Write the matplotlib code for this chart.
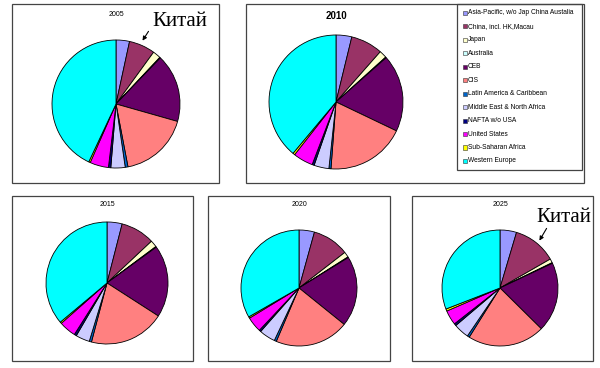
import matplotlib
matplotlib.use("Agg")
import matplotlib.pyplot as plt
from matplotlib.patches import Rectangle

W, H = 600, 368

regions = ["Asia-Pacific, w/o Jap China Austalia", "China, incl. HK,Macau", "Japan",
           "Australia", "CEB", "CIS", "Latin America & Caribbean",
           "Middle East & North Africa", "NAFTA w/o USA", "United States",
           "Sub-Saharan Africa", "Western Europe"]
colors = ["#9999FF", "#993366", "#FFFFCC", "#CCFFFF", "#660066", "#FF8080",
          "#0066CC", "#CCCCFF", "#000080", "#FF00FF", "#FFFF00", "#00FFFF"]

years = ["2005", "2010", "2015", "2020", "2025"]
share_2005 = [3.4, 6.6, 2.0, 0.2, 17.2, 17.6, 0.7, 3.6, 0.6, 4.7, 0.4, 43.0]
share_2010 = [3.8, 7.7, 1.8, 0.2, 18.6, 19.1, 0.5, 3.6, 0.5, 4.8, 0.5, 38.9]
share_2015 = [4.0, 9.0, 1.8, 0.2, 19.1, 20.0, 0.6, 3.7, 0.6, 4.5, 0.4, 36.1]
share_2020 = [4.3, 10.2, 1.5, 0.2, 19.6, 20.6, 0.6, 4.5, 0.5, 4.3, 0.4, 33.3]
share_2025 = [4.6, 12.1, 1.1, 0.2, 19.4, 21.5, 0.6, 4.3, 0.6, 4.1, 0.6, 30.9]
shares = [share_2005, share_2010, share_2015, share_2020, share_2025]

# layout in pixels (x0, y0, x1, y1) top-left origin
boxes = [(12, 4, 219, 183), (246, 4, 584, 183), (12, 196, 193, 361),
         (208, 196, 390, 361), (412, 196, 593, 361)]
centers = [(116, 104, 64), (336, 102, 67), (107, 283, 61), (299, 288, 58), (500, 288, 58)]
title_pos = [(116, 15), (336, 16), (107, 205), (299, 205), (500, 205)]
title_bold = [False, True, False, False, False]

fig = plt.figure(figsize=(W / 100, H / 100), dpi=100)
fig.patch.set_facecolor("white")

def fx(x):
    return x / W

def fy(y):
    return 1 - y / H

for (x0, y0, x1, y1) in boxes:
    fig.patches.append(Rectangle((fx(x0), fy(y1)), (x1 - x0) / W, (y1 - y0) / H,
                                 transform=fig.transFigure, fill=False,
                                 edgecolor="#444444", linewidth=0.9))

for i, yr in enumerate(years):
    cx, cy, r = centers[i]
    ax = fig.add_axes([fx(cx - r), fy(cy + r), 2 * r / W, 2 * r / H])
    ax.pie(shares[i], colors=colors, startangle=90, counterclock=False, radius=1,
           wedgeprops=dict(edgecolor="black", linewidth=0.6))
    ax.set_xlim(-1.0, 1.0)
    ax.set_ylim(-1.0, 1.0)
    ax.set_aspect("equal")
    ax.axis("off")
    tx, ty = title_pos[i]
    fig.text(fx(tx), fy(ty), yr, ha="center", va="center",
             family="Liberation Sans",
             fontsize=7 if title_bold[i] else 5,
             fontweight="bold" if title_bold[i] else "normal")

# legend
lx0, ly0, lx1, ly1 = 457, 4, 582, 170
fig.patches.append(Rectangle((fx(lx0), fy(ly1)), (lx1 - lx0) / W, (ly1 - ly0) / H,
                             transform=fig.transFigure, fill=False,
                             edgecolor="#444444", linewidth=0.9))
for k, (name, c) in enumerate(zip(regions, colors)):
    yy = 13 + k * 13.45
    fig.patches.append(Rectangle((fx(463), fy(yy + 2)), 4 / W, 4 / H,
                                 transform=fig.transFigure, facecolor=c,
                                 edgecolor="#333333", linewidth=0.4))
    fig.text(fx(468), fy(yy), name, ha="left", va="center",
             family="Liberation Sans", fontsize=4.8)

# annotations
ann = [((152, 26), (150, 29), (141, 43)), ((536, 222), (548, 226), (538, 243))]
for (tpos, tail, head) in ann:
    fig.text(fx(tpos[0]), fy(tpos[1]), "Китай", ha="left", va="baseline",
             family="Liberation Serif", fontsize=15)
    fig.add_artist(matplotlib.patches.FancyArrowPatch(
        (fx(tail[0]), fy(tail[1])), (fx(head[0]), fy(head[1])),
        transform=fig.transFigure, arrowstyle="-|>", mutation_scale=6,
        color="black", linewidth=0.8))

fig.savefig("out.png", dpi=100)
